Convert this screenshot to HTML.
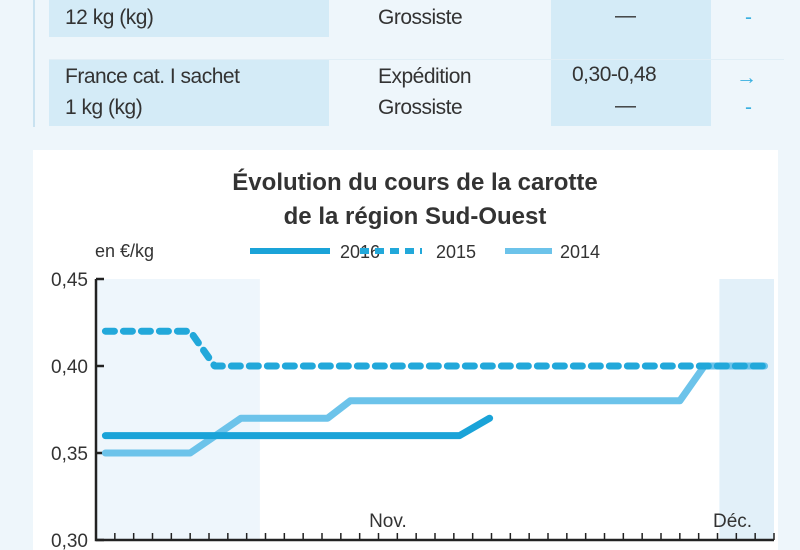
<!DOCTYPE html>
<html><head><meta charset="utf-8"><style>
body{margin:0;width:800px;height:550px;overflow:hidden;background:#eef6fb;font-family:"Liberation Sans",sans-serif;color:#333;position:relative}
.t{position:absolute;font-size:21px;letter-spacing:-0.5px;white-space:nowrap}
</style></head><body>
<div style="position:absolute;left:0;top:0;width:800px;height:130px">
<div style="position:absolute;left:33px;top:0;width:2px;height:127px;background:#c9e2f0"></div>
<div style="position:absolute;left:49px;top:0;width:280px;height:37px;background:#d4ebf7"></div>
<div style="position:absolute;left:49px;top:60px;width:280px;height:66px;background:#d4ebf7"></div>
<div style="position:absolute;left:551px;top:0;width:160px;height:126px;background:#d4ebf7"></div>
<div style="position:absolute;left:49px;top:59px;width:735px;height:1px;background:#e0eef6"></div>
<div class="t" style="left:65px;top:6px">12 kg (kg)</div>
<div class="t" style="left:378px;top:6px">Grossiste</div>
<div class="t" style="left:615px;top:4px">—</div>
<div class="t" style="left:745px;top:6px;color:#3ab0e0">-</div>
<div class="t" style="left:65px;top:65px">France cat. I sachet</div>
<div class="t" style="left:65px;top:96px">1 kg (kg)</div>
<div class="t" style="left:378px;top:65px">Expédition</div>
<div class="t" style="left:378px;top:96px">Grossiste</div>
<div class="t" style="left:572px;top:63px">0,30-0,48</div>
<div class="t" style="left:615px;top:94px">—</div>
<div class="t" style="left:736px;top:66px;color:#3ab0e0;font-weight:bold">→</div>
<div class="t" style="left:745px;top:96px;color:#3ab0e0">-</div>
</div>
<svg id="c" width="800" height="550" style="position:absolute;left:0;top:0"></svg>
<script>
const yTicks=[0.30,0.35,0.40,0.45];
const yLabels=["0,30","0,35","0,40","0,45"];
const x2016=[0.5,19.3,20.9];
const y2016=[0.36,0.36,0.37];
const x2015=[0.5,5,6.3,35.5];
const y2015=[0.42,0.42,0.40,0.40];
const x2014=[0.5,5,7.7,12.3,13.5,31,32.3,35.5];
const y2014=[0.35,0.35,0.37,0.37,0.38,0.38,0.40,0.40];
const monthLabels=["Nov.","Déc."];
const monthPos=[15.5,33.8];
const nTicks=36;
const X0=96,X1=774,Y0=540,Y1=279;
const sx=i=>X0+i*(X1-X0)/nTicks;
const sy=v=>Y0-(v-0.30)/(0.15)*(Y0-Y1);
const svg=document.getElementById('c');const NS='http://www.w3.org/2000/svg';
function mk(t,a,txt){const e=document.createElementNS(NS,t);for(const k in a)e.setAttribute(k,a[k]);if(txt!==undefined)e.textContent=txt;svg.appendChild(e);return e;}
let e;
e=mk('rect',{x:33,y:150,width:745,height:400,fill:'#fff'});


e=mk('rect',{x:X0,y:Y1,width:sx(8.7)-X0,height:Y0-Y1,fill:'#eef6fc'});


e=mk('rect',{x:sx(33.1),y:Y1,width:X1-sx(33.1),height:Y0-Y1,fill:'#e2f0f9'});


e=mk('text',{x:415,y:190,'text-anchor':'middle','font-size':24,'font-weight':'bold',fill:'#333'},'Évolution du cours de la carotte');


e=mk('text',{x:415,y:224,'text-anchor':'middle','font-size':24,'font-weight':'bold',fill:'#333'},'de la région Sud-Ouest');


e=mk('text',{x:95,y:257,'font-size':18,fill:'#333'},'en €/kg');


const leg=[['2016','#1aa3d8','',250,330,340],['2015','#22a8da','9 6',360,422,436],['2014','#6cc3ea','',505,552,560]];
leg.forEach(l=>{e=mk('line',{x1:l[3],x2:l[4],y1:251,y2:251,stroke:l[1],'stroke-width':6,'stroke-dasharray':l[2]});


e=mk('text',{x:l[5],y:258,'font-size':18,fill:'#333'},l[0]);

});
e=mk('path',{d:`M${X0},${Y1} V${Y0} H${X1}`,fill:'none',stroke:'#222','stroke-width':2.5});


yTicks.forEach((v,i)=>{e=mk('line',{x1:X0,x2:X0+8,y1:sy(v),y2:sy(v),stroke:'#222','stroke-width':2.5});


e=mk('text',{x:88,y:sy(v)+7,'text-anchor':'end','font-size':19,fill:'#333'},yLabels[i]);

});
for(let i=1;i<=nTicks;i++){e=mk('line',{x1:sx(i),x2:sx(i),y1:Y0,y2:Y0-7,stroke:'#222','stroke-width':1.5});

}
monthLabels.forEach((m,i)=>{e=mk('text',{x:sx(monthPos[i]),y:527,'text-anchor':'middle','font-size':19,fill:'#333'},m);

});
function line(xs,ys,col,w,dash,name){const d=xs.map((x,i)=>(i?'L':'M')+sx(x)+','+sy(ys[i])).join(' ');
e=mk('path',{d,fill:'none',stroke:col,'stroke-width':w,'stroke-dasharray':dash,'stroke-linecap':'round','stroke-linejoin':'round'});

}
line(x2014,y2014,'#6cc3ea',7,'','series-2014');
line(x2015,y2015,'#22a8da',7,'9 9','series-2015');
line(x2016,y2016,'#1aa3d8',7,'','series-2016');
</script>
</body></html>
